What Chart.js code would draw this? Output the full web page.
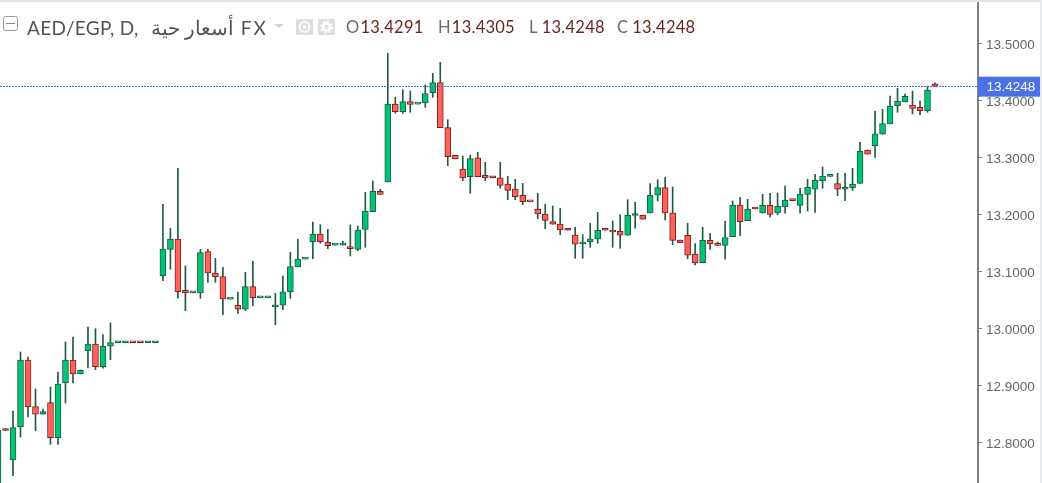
<!DOCTYPE html>
<html>
<head>
<meta charset="utf-8">
<script src="https://cdn.jsdelivr.net/npm/chart.js@4"></script>
<style>
    html, body { margin: 0; padding: 0; background: #fff; overflow: hidden; }
    #wrap { position: relative; width: 1042px; height: 483px; overflow: hidden; }
    #topline { position: absolute; left: 0; top: 0; width: 1042px; height: 2px; background: #e0e3e7; }
    #rightline { position: absolute; left: 1040px; top: 0; width: 2px; height: 483px; background: #e6e9ee; }
    #title, .ohlc { position: absolute; top: 15px; height: 24px; line-height: 24px; white-space: nowrap; font-family: Lato, "Noto Sans", sans-serif; }
    #title { left: 27px; font-size: 19px; color: #535353; letter-spacing: 0.3px; }
    #title span { margin-left: 7px; margin-right: 7px; font-size: 20px; }
    #title i { font-style: normal; letter-spacing: 2px; }
    .ohlc { font-size: 16.5px; letter-spacing: 0.25px; color: #6b2420; }
    .ohlc b { font-weight: normal; color: #6a6a6a; }
    svg { position: absolute; left: 0; top: 0; }
</style>
</head>
<body>
<div id="wrap">
    <canvas id="chart" width="1042" height="483"></canvas>
    <div id="topline"></div>
    <div id="rightline"></div>
    <svg width="345" height="45">
        <rect x="3.5" y="16.5" width="14" height="14" rx="2" fill="none" stroke="#9a9a9a"/>
        <line x1="6" y1="23.5" x2="15" y2="23.5" stroke="#8a8a8a"/>
        <polygon points="274,24 284,24 279,28" fill="#d4d4d4"/>
        <rect x="296" y="19" width="17" height="16" fill="#dedede"/>
        <circle cx="304.5" cy="27" r="5" fill="none" stroke="#fff" stroke-width="1.6"/>
        <circle cx="304.5" cy="27" r="1.8" fill="#fff"/>
        <rect x="318" y="19" width="17" height="16" fill="#dedede"/>
        <circle cx="326.5" cy="27" r="3.6" fill="none" stroke="#fff" stroke-width="2.6"/>
        <circle cx="326.5" cy="27" r="6" fill="none" stroke="#fff" stroke-width="1.4" stroke-dasharray="2 2.7"/>
    </svg>
    <div id="title">AED/EGP, D, <span dir="rtl">أسعار حية</span><i>FX</i></div>
</div>

<script>
    // daily candles, oldest first (first one is cut by the left edge)
    const opens = [
        12.6988, 12.8216,
        12.7690, 12.8274, 12.9444, 12.8625, 12.8492, 12.8695, 12.8081, 12.9046, 12.9444, 12.9199,
        12.9607, 12.9725, 12.9327, 12.9685, 12.9746, 12.9746, 12.9750, 12.9750, 12.9746, 12.9746,
        13.0923, 13.1386, 13.1567, 13.0667, 13.0623, 13.0620, 13.1344, 13.0970, 13.0906, 13.0512,
        13.0404, 13.0334, 13.0730, 13.0535, 13.0535, 13.0379, 13.0404, 13.0642, 13.1081, 13.1214,
        13.1520, 13.1655, 13.1509, 13.1460, 13.1460, 13.1421, 13.1386, 13.1737, 13.2046, 13.2404,
        13.2567, 13.3935, 13.3800, 13.3976, 13.3933, 13.3953, 13.4134, 13.4309, 13.3520, 13.3035,
        13.2795, 13.2660, 13.2993, 13.2685, 13.2660, 13.2642, 13.2532, 13.2444, 13.2334, 13.2225,
        13.2093, 13.2006, 13.1871, 13.1830, 13.1742, 13.1637, 13.1479, 13.1520, 13.1567, 13.1742,
        13.1725, 13.1702, 13.1632, 13.1979, 13.1983, 13.2023, 13.2334, 13.2467, 13.2028, 13.1549,
        13.1632, 13.1304, 13.1151, 13.1544, 13.1479, 13.1456, 13.1607, 13.2163, 13.1888, 13.2116,
        13.2023, 13.2158, 13.2023, 13.2128, 13.2251, 13.2158, 13.2351, 13.2439, 13.2590, 13.2665,
        13.2537, 13.2439, 13.2467, 13.2541, 13.3128, 13.3204, 13.3404, 13.3585, 13.3906, 13.3971,
        13.3918, 13.3877, 13.3818, 13.4291
    ];
    const closes = [
        12.8216, 12.8207,
        12.8257, 12.9444, 12.8625, 12.8492, 12.8537, 12.8081, 12.9023, 12.9444, 12.9199, 12.9264,
        12.9725, 12.9327, 12.9685, 12.9748, 12.9750, 12.9750, 12.9746, 12.9746, 12.9750, 12.9750,
        13.1392, 13.1567, 13.0642, 13.0620, 13.0627, 13.1327, 13.0970, 13.0906, 13.0514, 13.0516,
        13.0334, 13.0730, 13.0537, 13.0539, 13.0539, 13.0409, 13.0642, 13.1081, 13.1216, 13.1218,
        13.1655, 13.1520, 13.1449, 13.1464, 13.1464, 13.1397, 13.1725, 13.2053, 13.2404, 13.2348,
        13.3935, 13.3800, 13.3976, 13.3930, 13.3937, 13.4116, 13.4309, 13.3520, 13.3011, 13.2971,
        13.2637, 13.2976, 13.2660, 13.2637, 13.2642, 13.2509, 13.2421, 13.2309, 13.2221, 13.2219,
        13.2006, 13.1895, 13.1825, 13.1725, 13.1720, 13.1474, 13.1502, 13.1572, 13.1720, 13.1720,
        13.1690, 13.1632, 13.1983, 13.1993, 13.1913, 13.2334, 13.2467, 13.2023, 13.1544, 13.1502,
        13.1281, 13.1146, 13.1544, 13.1479, 13.1456, 13.1593, 13.2163, 13.1871, 13.2093, 13.2093,
        13.2158, 13.2000, 13.2141, 13.2251, 13.2239, 13.2356, 13.2474, 13.2597, 13.2667, 13.2669,
        13.2439, 13.2474, 13.2532, 13.3106, 13.3055, 13.3414, 13.3590, 13.3895, 13.3983, 13.4071,
        13.3860, 13.3818, 13.4181, 13.4248
    ];
    const highs = [
        12.8216, 12.8242,
        12.8549, 12.9585, 12.9497, 12.8935, 12.8585, 12.8970, 12.9234, 12.9760, 12.9848, 12.9269,
        13.0023, 12.9993, 12.9888, 13.0093, 12.9750, 12.9750, 12.9750, 12.9750, 12.9750, 12.9750,
        13.2176, 13.1755, 13.2807, 13.1093, 13.0627, 13.1386, 13.1386, 13.1228, 13.1070, 13.0516,
        13.0637, 13.0983, 13.1181, 13.0539, 13.0539, 13.0614, 13.0918, 13.1334, 13.1562, 13.1218,
        13.1865, 13.1818, 13.1737, 13.1464, 13.1527, 13.1813, 13.1795, 13.2386, 13.2585, 13.2439,
        13.4825, 13.4053, 13.4186, 13.4163, 13.3937, 13.4269, 13.4474, 13.4667, 13.3660, 13.3035,
        13.3023, 13.3041, 13.3088, 13.2913, 13.2660, 13.2913, 13.2667, 13.2614, 13.2544, 13.2225,
        13.2369, 13.2176, 13.2146, 13.2106, 13.1742, 13.1772, 13.1642, 13.1842, 13.2035, 13.1742,
        13.1883, 13.1993, 13.2256, 13.2211, 13.1983, 13.2537, 13.2607, 13.2649, 13.2479, 13.1549,
        13.1842, 13.1485, 13.1772, 13.1667, 13.1514, 13.1883, 13.2234, 13.2299, 13.2263, 13.2116,
        13.2351, 13.2369, 13.2374, 13.2497, 13.2251, 13.2456, 13.2614, 13.2702, 13.2830, 13.2669,
        13.2720, 13.2720, 13.2807, 13.3263, 13.3128, 13.3813, 13.3842, 13.4076, 13.4211, 13.4111,
        13.4163, 13.3988, 13.4251, 13.4305
    ];
    const lows = [
        12.6988, 12.8207,
        12.7414, 12.8093, 12.8444, 12.8204, 12.8492, 12.7965, 12.7965, 12.8690, 12.9041, 12.9199,
        12.9304, 12.9274, 12.9299, 12.9449, 12.9746, 12.9746, 12.9746, 12.9746, 12.9746, 12.9746,
        13.0835, 13.1035, 13.0527, 13.0309, 13.0623, 13.0527, 13.0807, 13.0807, 13.0239, 13.0512,
        13.0263, 13.0309, 13.0397, 13.0535, 13.0535, 13.0063, 13.0327, 13.0527, 13.1081, 13.1214,
        13.1221, 13.1492, 13.1397, 13.1460, 13.1460, 13.1269, 13.1362, 13.1421, 13.2046, 13.2348,
        13.2567, 13.3772, 13.3772, 13.3790, 13.3933, 13.3877, 13.4053, 13.3520, 13.2853, 13.2971,
        13.2590, 13.2369, 13.2660, 13.2590, 13.2642, 13.2456, 13.2256, 13.2256, 13.2169, 13.2219,
        13.1923, 13.1748, 13.1825, 13.1642, 13.1720, 13.1228, 13.1228, 13.1421, 13.1492, 13.1720,
        13.1421, 13.1404, 13.1632, 13.1755, 13.1913, 13.2023, 13.2234, 13.1900, 13.1467, 13.1502,
        13.1221, 13.1111, 13.1151, 13.1386, 13.1456, 13.1211, 13.1607, 13.1625, 13.1888, 13.2093,
        13.2023, 13.1948, 13.1993, 13.2018, 13.2239, 13.2018, 13.2058, 13.2035, 13.2456, 13.2665,
        13.2327, 13.2239, 13.2418, 13.2541, 13.3055, 13.3000, 13.3404, 13.3585, 13.3790, 13.3971,
        13.3760, 13.3748, 13.3790, 13.4248
    ];
    const priceTicks = [12.8, 12.9, 13.0, 13.1, 13.2, 13.3, 13.4, 13.5];
    const ohlcLabels = ['O', 'H', 'L', 'C'];
    const ohlcValues = ['13.4291', '13.4305', '13.4248', '13.4248'];
    const ohlcLeft = [346, 438, 529, 617];
    const ohlcGap = [1, 1, 4, 4];

    const UP_FILL = '#00c373';
    const UP_EDGE = '#1c5e45';
    const DOWN_FILL = '#ff6259';
    const DOWN_EDGE = '#7d2020';
    const WICK = '#1f5c44';

    let wrap = document.getElementById('wrap');
    ohlcLabels.forEach((label, i) => {
        let el = document.createElement('div');
        el.className = 'ohlc';
        el.style.left = ohlcLeft[i] + 'px';
        el.innerHTML = '<b style="margin-right:' + ohlcGap[i] + 'px">' + label + '</b>' + ohlcValues[i];
        wrap.appendChild(el);
    });

    let isUp = i => closes[i] >= opens[i];

    // current price line and the blue tag on the axis
    const lastPricePlugin = {
        id: 'lastPrice',
        afterDraw(chart) {
            let ctx = chart.ctx;
            let last = closes[closes.length - 1];
            let y = chart.scales.y.getPixelForValue(last);
            let area = chart.chartArea;
            ctx.save();
            ctx.strokeStyle = '#3f6ee6';
            ctx.lineWidth = 1;
            ctx.setLineDash([2, 1]);
            ctx.beginPath();
            ctx.moveTo(area.left, Math.round(y) + 0.5);
            ctx.lineTo(area.right, Math.round(y) + 0.5);
            ctx.stroke();
            ctx.setLineDash([]);
            ctx.fillStyle = '#4a72e6';
            ctx.fillRect(area.right, y - 9.5, 64, 20);
            ctx.fillStyle = '#fff';
            ctx.font = '13.5px "Liberation Sans", Arial, sans-serif';
            ctx.textBaseline = 'middle';
            ctx.fillText(last.toFixed(4), area.right + 8.5, y + 1.5);
            ctx.restore();
        }
    };

    new Chart(document.getElementById('chart'), {
        type: 'bar',
        data: {
            datasets: [
                {
                    label: 'body',
                    data: opens.map((o, i) => ({ x: i, y: [o, closes[i]] })),
                    backgroundColor: opens.map((o, i) => isUp(i) ? UP_FILL : DOWN_FILL),
                    borderColor: opens.map((o, i) => isUp(i) ? UP_EDGE : DOWN_EDGE),
                    borderWidth: 1,
                    borderSkipped: false,
                    barThickness: 6,
                    minBarLength: 2,
                    order: 1
                },
                {
                    label: 'wick',
                    data: highs.map((h, i) => ({ x: i, y: [lows[i], h] })),
                    backgroundColor: WICK,
                    borderWidth: 0,
                    barThickness: 1,
                    order: 2
                }
            ]
        },
        options: {
            responsive: false,
            animation: false,
            maintainAspectRatio: false,
            layout: { padding: 0 },
            datasets: { bar: { grouped: false } },
            plugins: { legend: { display: false }, tooltip: { enabled: false }, title: { display: false } },
            scales: {
                x: {
                    type: 'linear',
                    display: false,
                    offset: false,
                    min: 0.2655,
                    max: 130.735
                },
                y: {
                    position: 'right',
                    min: 12.7286,
                    max: 13.576,
                    afterFit(axis) {
                        axis.width = 64;
                        axis.paddingTop = 0;
                        axis.paddingBottom = 0;
                    },
                    afterBuildTicks(axis) { axis.ticks = priceTicks.map(v => ({ value: v })); },
                    border: { color: '#808080', width: 2 },
                    grid: { drawOnChartArea: false, drawTicks: true, tickLength: 4, color: '#808080' },
                    ticks: {
                        color: '#666',
                        padding: 4,
                        // empty first line pushes the label 2px under its tick
                        font: { family: '"Liberation Sans", Arial, sans-serif', size: 13.5, lineHeight: 0.3 },
                        callback: value => ['', value.toFixed(4)]
                    }
                }
            }
        },
        plugins: [lastPricePlugin]
    });
</script>
</body>
</html>
